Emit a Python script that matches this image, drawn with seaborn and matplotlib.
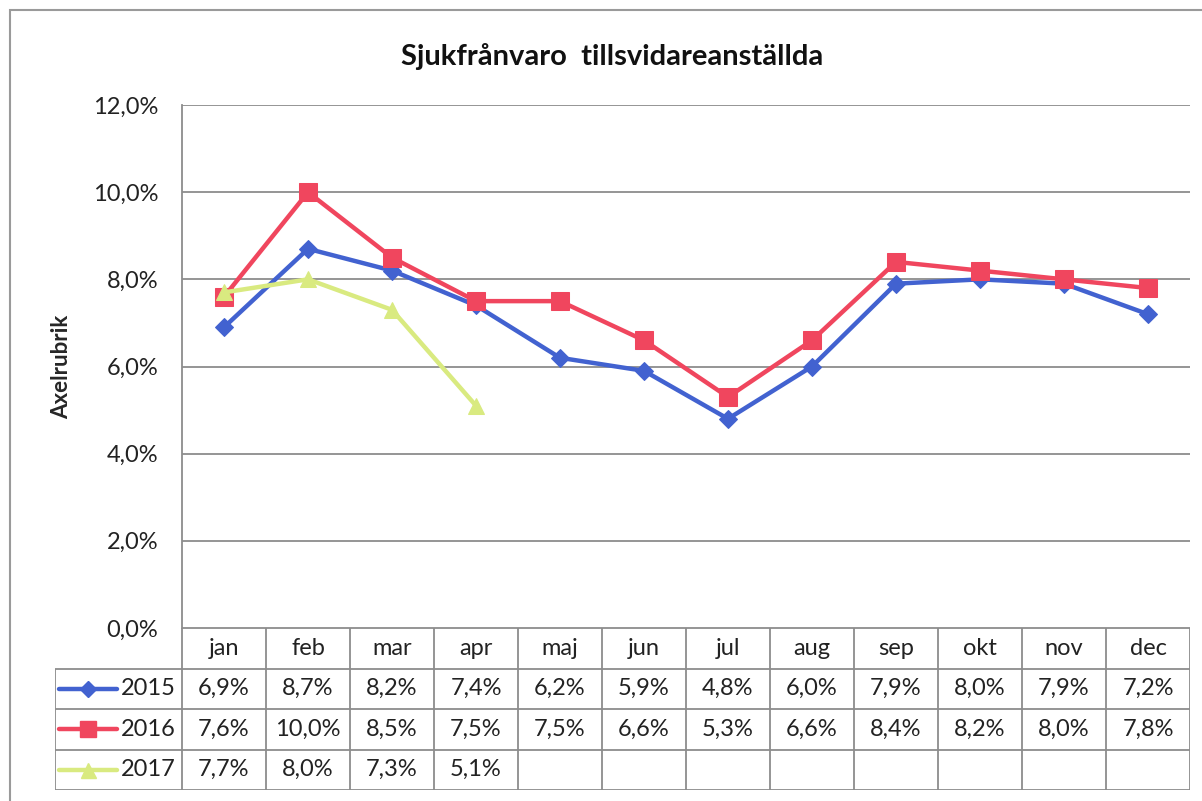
import numpy as np
import pandas as pd
import matplotlib
matplotlib.use("Agg")
import matplotlib.pyplot as plt
from matplotlib.lines import Line2D
from matplotlib.patches import Rectangle
import seaborn as sns

months = ["jan", "feb", "mar", "apr", "maj", "jun", "jul", "aug", "sep", "okt", "nov", "dec"]
years = ["2015", "2016", "2017"]
v2015 = [6.9, 8.7, 8.2, 7.4, 6.2, 5.9, 4.8, 6.0, 7.9, 8.0, 7.9, 7.2]
v2016 = [7.6, 10.0, 8.5, 7.5, 7.5, 6.6, 5.3, 6.6, 8.4, 8.2, 8.0, 7.8]
v2017 = [7.7, 8.0, 7.3, 5.1, None, None, None, None, None, None, None, None]
yticks = [0, 2, 4, 6, 8, 10, 12]

colors = {"2015": "#4262d0", "2016": "#f0465e", "2017": "#d9ea80"}
markers = {"2015": "D", "2016": "s", "2017": "^"}
msizes = {"2015": 9, "2016": 13, "2017": 12}

rows = []
for yr, vals in zip(years, [v2015, v2016, v2017]):
    for i, (m, v) in enumerate(zip(months, vals)):
        rows.append({"idx": i, "month": m, "year": yr, "value": v})
df = pd.DataFrame(rows).dropna()

sns.set_style("white")
plt.rcParams["font.family"] = ["Lato", "DejaVu Sans"]

W, H = 1202, 801
fs = 17
fig = plt.figure(figsize=(W / 100, H / 100), dpi=100)

# outer chart frame
fig.patches.append(Rectangle((10 / W, -0.05), 1.2, (H - 10) / H + 0.05, transform=fig.transFigure,
                             fill=False, edgecolor="#9a9a9a", lw=1.5))

left, right = 182, 1190
ax = fig.add_axes([left / W, 1 - 628 / H, (right - left) / W, (628 - 105) / H])
for yr in years:
    sub = df[df["year"] == yr]
    sns.lineplot(data=sub, x="idx", y="value", ax=ax, color=colors[yr], marker=markers[yr],
                 markersize=msizes[yr], markeredgecolor=colors[yr], lw=3.2, legend=False)
ax.set_xlim(-0.5, 11.5)
ax.set_ylim(0, 12)
ax.set_yticks(yticks)
ax.set_yticklabels([f"{t:.1f}%".replace(".", ",") for t in yticks], fontsize=fs, color="#222222")
ax.set_xticks([])
ax.set_xlabel("")
ax.set_ylabel("Axelrubrik", fontsize=16, fontweight="bold")
ax.yaxis.set_label_coords((72 - left) / (right - left), 0.5)
ax.tick_params(axis="y", length=0, pad=17)
for t in yticks:
    ax.axhline(t, color="#8c8c8c", lw=1.3, zorder=0)
for s in ["top", "right", "bottom"]:
    ax.spines[s].set_visible(False)
ax.spines["left"].set_color("#8c8c8c")
ax.spines["left"].set_linewidth(1.3)
fig.text(612 / W, 1 - 57 / H, "Sjukfrånvaro  tillsvidareanställda", fontsize=21,
         fontweight="bold", ha="center", va="center", color="#111111")

# data table below the plot
colw = (right - left) / 12
leg_w = (182 - 55) / colw
tax = fig.add_axes([55 / W, 1 - 790 / H, (right - 55) / W, (790 - 628) / H])
tax.set_xlim(-0.5 - leg_w, 11.5)
tax.set_ylim(4, 0)
tax.axis("off")
gc = "#8c8c8c"
tax.hlines(0, -0.5, 11.5, color=gc, lw=1.3)
for r in [1, 2, 3, 4]:
    tax.hlines(r, -0.5 - leg_w, 11.5, color=gc, lw=1.3)
tax.vlines(-0.5 - leg_w, 1, 4, color=gc, lw=1.3)
for j in range(13):
    tax.vlines(j - 0.5, 0, 4, color=gc, lw=1.3)
for j, m in enumerate(months):
    tax.text(j, 0.5, m, ha="center", va="center", fontsize=fs, color="#222222")
lx = -0.5 - leg_w
for r, (yr, vals) in enumerate(zip(years, [v2015, v2016, v2017]), start=1):
    for j, v in enumerate(vals):
        if v is not None:
            tax.text(j, r + 0.5, f"{v:.1f}%".replace(".", ","), ha="center", va="center",
                     fontsize=fs, color="#222222")
    x0 = lx + 4 / colw
    x1 = lx + 62 / colw
    tax.add_line(Line2D([x0, x1], [r + 0.5, r + 0.5], color=colors[yr], lw=3.2))
    tax.plot([(x0 + x1) / 2], [r + 0.5], marker=markers[yr], color=colors[yr],
             markersize=msizes[yr] * 0.9)
    tax.text(lx + 66 / colw, r + 0.5, yr, ha="left", va="center", fontsize=fs, color="#222222")

fig.savefig("out.png", dpi=100)
